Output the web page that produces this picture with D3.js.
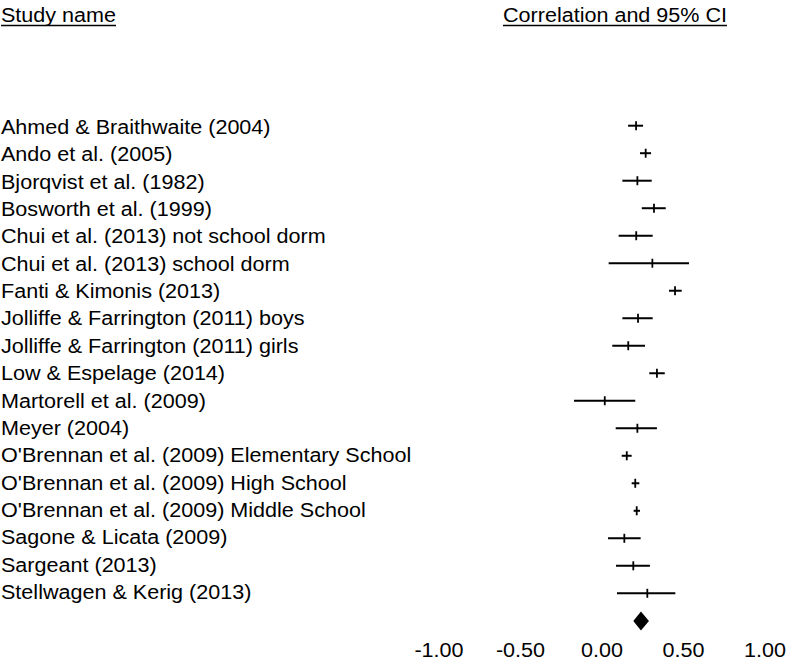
<!DOCTYPE html>
<html>
<head>
<meta charset="utf-8">
<script src="https://cdn.jsdelivr.net/npm/d3@7/dist/d3.min.js"></script>
<style>
  html, body { margin: 0; padding: 0; background: #fff; }
  svg { display: block; }
  text { font-family: "Liberation Sans", Arial, sans-serif; fill: #000; }
</style>
</head>
<body>
<svg id="chart" width="786" height="668"></svg>
<script>
const studies = [
  "Ahmed & Braithwaite (2004)",
  "Ando et al. (2005)",
  "Bjorqvist et al. (1982)",
  "Bosworth et al. (1999)",
  "Chui et al. (2013) not school dorm",
  "Chui et al. (2013) school dorm",
  "Fanti & Kimonis (2013)",
  "Jolliffe & Farrington (2011) boys",
  "Jolliffe & Farrington (2011) girls",
  "Low & Espelage (2014)",
  "Martorell et al. (2009)",
  "Meyer (2004)",
  "O'Brennan et al. (2009) Elementary School",
  "O'Brennan et al. (2009) High School",
  "O'Brennan et al. (2009) Middle School",
  "Sagone & Licata (2009)",
  "Sargeant (2013)",
  "Stellwagen & Kerig (2013)"
];
const correlation = [0.209, 0.268, 0.217, 0.319, 0.210, 0.309, 0.448, 0.221, 0.161, 0.337, 0.017, 0.217, 0.152, 0.204, 0.213, 0.137, 0.192, 0.278];
const lowerCI     = [0.160, 0.233, 0.125, 0.244, 0.102, 0.041, 0.411, 0.125, 0.063, 0.290, -0.172, 0.084, 0.121, 0.182, 0.194, 0.037, 0.086, 0.092];
const upperCI     = [0.252, 0.301, 0.305, 0.391, 0.311, 0.534, 0.489, 0.311, 0.264, 0.385, 0.204, 0.337, 0.182, 0.229, 0.233, 0.237, 0.294, 0.450];
const pooled = { r: 0.239, lo: 0.192, hi: 0.288 };
const tickValues = [-1, -0.5, 0, 0.5, 1];
const tickLabels = ["-1.00", "-0.50", "0.00", "0.50", "1.00"];
const headerLeft = "Study name";
const headerRight = "Correlation and 95% CI";

const svg = d3.select("#chart");
const FS = 19.6, SX = 1.1;

const x = d3.scaleLinear().domain([-1, 1]).range([439, 765]);
const yMark = d3.scalePoint().domain(studies).range([125.7, 593.3]);
const yText = d3.scalePoint().domain(studies).range([134, 599]);

function stretchedText(g, str, tx, ty, anchor) {
  return g.append("text")
    .attr("transform", `translate(${tx},${ty}) scale(${SX},1)`)
    .attr("text-anchor", anchor || "start")
    .style("font-size", FS + "px")
    .text(str);
}

// headers
const hL = stretchedText(svg, headerLeft, 1, 22);
const hR = stretchedText(svg, headerRight, 503, 22);
[hL, hR].forEach((t, i) => {
  const bb = t.node().getBBox();
  const x0 = i === 0 ? 1 : 503;
  svg.append("line")
    .attr("x1", x0 + bb.x * SX).attr("x2", x0 + (bb.x + bb.width) * SX)
    .attr("y1", 25.5).attr("y2", 25.5)
    .attr("stroke", "#000").attr("stroke-width", 1.4);
});

const data = studies.map((s, i) => ({ name: s, r: correlation[i], lo: lowerCI[i], hi: upperCI[i] }));

// study names
data.forEach(d => stretchedText(svg, d.name, 1, yText(d.name)));

// CI lines
svg.append("g").selectAll("line")
  .data(data).join("line")
  .attr("x1", d => x(d.lo)).attr("x2", d => x(d.hi))
  .attr("y1", d => yMark(d.name)).attr("y2", d => yMark(d.name))
  .attr("stroke", "#000").attr("stroke-width", 2);

// point estimate ticks
svg.append("g").selectAll("line")
  .data(data).join("line")
  .attr("x1", d => x(d.r)).attr("x2", d => x(d.r))
  .attr("y1", d => yMark(d.name) - 4.5).attr("y2", d => yMark(d.name) + 4.5)
  .attr("stroke", "#000").attr("stroke-width", 1.8);

// pooled diamond
const yd = 621, hd = 9.5;
svg.append("path")
  .attr("d", `M${x(pooled.lo)},${yd} L${x(pooled.r)},${yd - hd} L${x(pooled.hi)},${yd} L${x(pooled.r)},${yd + hd} Z`)
  .attr("fill", "#000");

// axis tick labels (no axis line)
tickValues.forEach((v, i) => stretchedText(svg, tickLabels[i], x(v), 657, "middle"));
</script>
</body>
</html>
